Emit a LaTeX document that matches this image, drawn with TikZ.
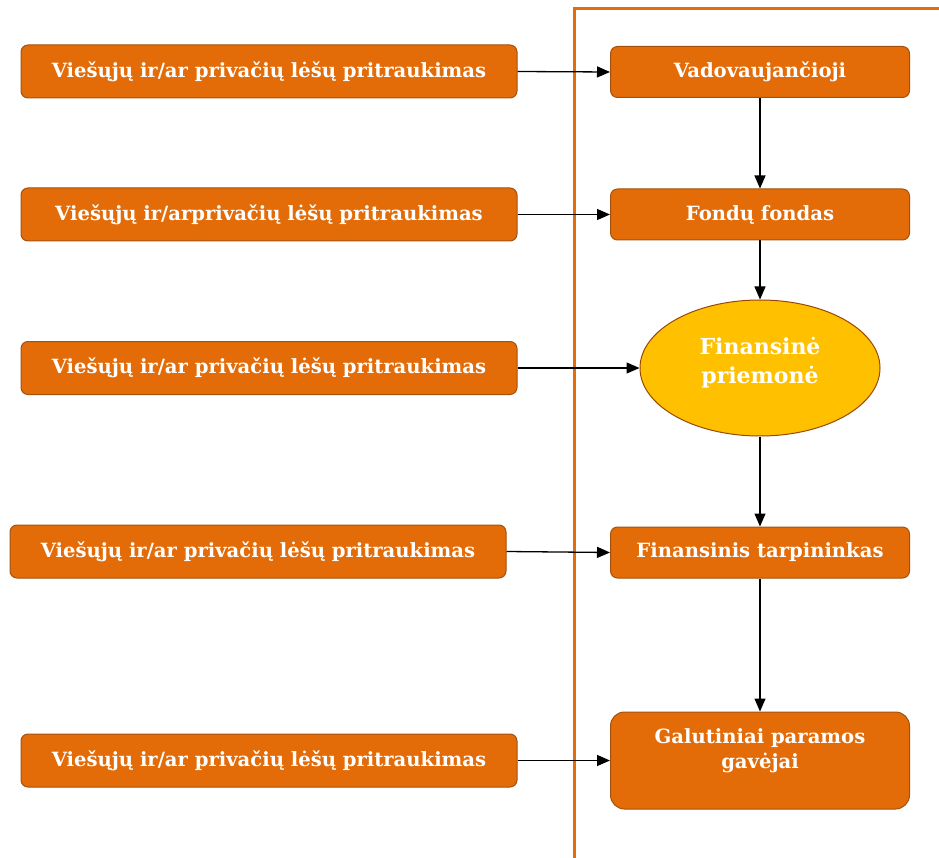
\documentclass[tikz,border=0pt]{standalone}
\usepackage{fontspec}
\setmainfont{DejaVu Serif}
\usetikzlibrary{arrows.meta,shapes.geometric}
\definecolor{boxfill}{HTML}{E36C09}
\definecolor{boxdraw}{HTML}{A2520E}
\definecolor{ellfill}{HTML}{FFC000}
\definecolor{elldraw}{HTML}{984806}
\definecolor{frameline}{HTML}{E46C0A}
\begin{document}
\begin{tikzpicture}[x=1pt,y=-1pt,
  src/.style={draw=boxdraw, fill=boxfill, rounded corners=7pt, line width=1pt,
    minimum width=496pt, minimum height=53pt, inner sep=0pt,
    text=white, font=\bfseries\fontsize{19.6}{23}\selectfont},
  dst/.style={src, minimum width=299pt, minimum height=51pt},
  ell/.style={ellipse, draw=elldraw, fill=ellfill, line width=1pt,
    minimum width=240pt, minimum height=136pt, inner sep=0pt},
  txt/.style={text=white, align=center, inner sep=0pt},
  arr/.style={-{Triangle[length=13pt,width=11pt]}, line width=1.3pt, black}
]
\useasboundingbox (0,0) rectangle (939,858);
\draw[frameline, line width=3pt] (574,858) -- (574,9) -- (939,9);

\node[src] (s1) at (269,71.5) {Viešųjų ir/ar privačių lėšų pritraukimas};
\node[src] (s2) at (269,214.5) {Viešųjų ir/arprivačių lėšų pritraukimas};
\node[src] (s3) at (269,368) {Viešųjų ir/ar privačių lėšų pritraukimas};
\node[src] (s4) at (258,551.5) {Viešųjų ir/ar privačių lėšų pritraukimas};
\node[src] (s5) at (269,760.5) {Viešųjų ir/ar privačių lėšų pritraukimas};

\node[dst] (a) at (760,72) {Vadovaujančioji};
\node[dst] (b) at (760,214.5) {Fondų fondas};
\node[ell] (c) at (760,368) {};
\node[txt, font=\bfseries\fontsize{22}{29}\selectfont] (ct) at (760,363) {Finansinė\\priemonė};
\node[dst] (d) at (760,552.5) {Finansinis tarpininkas};
\node[dst, minimum height=97pt, rounded corners=14pt] (e) at (760,760.5) {};
\node[txt, font=\bfseries\fontsize{19.6}{25}\selectfont] (et) at (760,751) {Galutiniai paramos\\gavėjai};

\draw[arr] (s1.east) -- (a.west);
\draw[arr] (s2.east) -- (b.west);
\draw[arr] (s3.east) -- (c.west);
\draw[arr] (s4.east) -- (d.west);
\draw[arr] (s5.east) -- (e.west);
\draw[arr] (a.south) -- (b.north);
\draw[arr] (b.south) -- (c.north);
\draw[arr] (c.south) -- (d.north);
\draw[arr] (d.south) -- (e.north);
\end{tikzpicture}
\end{document}
